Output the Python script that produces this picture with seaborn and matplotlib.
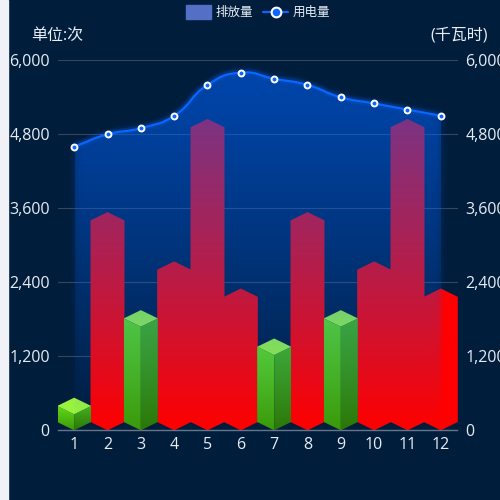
import numpy as np
import matplotlib
matplotlib.use("Agg")
import matplotlib.pyplot as plt
import seaborn as sns
from matplotlib.path import Path
from matplotlib.patches import PathPatch, Polygon, Rectangle
from matplotlib.lines import Line2D
from matplotlib.ticker import FuncFormatter

# data
months = ["1", "2", "3", "4", "5", "6", "7", "8", "9", "10", "11", "12"]
emission = [260, 3270, 1680, 2470, 4780, 2030, 1220, 3270, 1680, 2470, 4780, 2030]
power = [4600, 4800, 4900, 5100, 5600, 5800, 5700, 5600, 5400, 5300, 5200, 5100]
y_ticks = [0, 1200, 2400, 3600, 4800, 6000]
green_limit = 2000  # bars under this are drawn as green cubes

BG = "#001d3c"
TXT = "#e8edf3"
LINE = "#0a66ff"

sns.set_theme(style="dark", rc={"axes.facecolor": BG, "figure.facecolor": BG})
plt.rcParams["font.family"] = ["Open Sans", "Noto Sans CJK SC", "DejaVu Sans"]

fig = plt.figure(figsize=(5, 5), dpi=100)
ax = fig.add_axes([57.5 / 500, 1 - 430.3 / 500, 400 / 500, 370 / 500])
ax.set_facecolor(BG)
fig.patches.append(Rectangle((0, 0), 8 / 500, 1, transform=fig.transFigure,
                             color="#f0f2f7", zorder=0))

x = np.arange(1, len(months) + 1)
ax.set_xlim(0.5, len(months) + 0.5)
ax.set_ylim(0, 6000)

# px -> data scale (33.33 px per category, 370 px per 6000)
sx, sy = 400 / 12, 370 / 6000
hw = 17 / sx   # half bar width
dy = 8.3 / sy  # iso offset


def rgb(h):
    return np.array(matplotlib.colors.to_rgb(h))


def grad_fill(verts, c_top, c_bot, z):
    poly = Polygon(verts, closed=True, facecolor="none", edgecolor="none")
    ax.add_patch(poly)
    xs = [p[0] for p in verts]
    ys = [p[1] for p in verts]
    t = np.linspace(1, 0, 64)[:, None]
    col = rgb(c_top) * t + rgb(c_bot) * (1 - t)
    im = ax.imshow(col[:, None, :], extent=[min(xs), max(xs), min(ys), max(ys)],
                   aspect="auto", origin="upper", interpolation="bilinear", zorder=z)
    im.set_clip_path(poly)


for xi, v in zip(x, emission):
    if v < green_limit:
        top = [(xi, v), (xi - hw, v + dy), (xi, v + 2 * dy), (xi + hw, v + dy)]
        left = [(xi - hw, dy), (xi, 0), (xi, v), (xi - hw, v + dy)]
        right = [(xi, 0), (xi + hw, dy), (xi + hw, v + dy), (xi, v)]
        grad_fill(left, "#62dc18", "#3a9a0a", 1.2)
        grad_fill(right, "#48b416", "#2c7808", 1.2)
        ax.add_patch(Polygon(top, closed=True, facecolor="#98f23e", edgecolor="none", zorder=1.3))
    else:
        hexa = [(xi - hw, dy), (xi, 0), (xi + hw, dy), (xi + hw, v + dy),
                (xi, v + 2 * dy), (xi - hw, v + dy)]
        ax.add_patch(Polygon(hexa, closed=True, facecolor="#ff0000", edgecolor="none", zorder=1.1))


# smooth line like echarts (smooth = 0.5)
def smooth_path(xs, ys, smooth=0.5):
    P = np.column_stack([np.asarray(xs, float) * sx, np.asarray(ys, float) * sy])
    n = len(P)
    cps = []
    for i in range(n):
        prev = P[i - 1] if i > 0 else P[i]
        nxt = P[i + 1] if i < n - 1 else P[i]
        vec = (nxt - prev) * smooth
        d0 = np.hypot(*(P[i] - prev))
        d1 = np.hypot(*(nxt - P[i]))
        s = d0 + d1 if d0 + d1 else 1
        cps.append((P[i] - vec * d0 / s, P[i] + vec * d1 / s))
    verts = [P[0]]
    codes = [Path.MOVETO]
    for i in range(n - 1):
        verts += [cps[i][1], cps[i + 1][0], P[i + 1]]
        codes += [Path.CURVE4] * 3
    verts = np.array(verts) / [sx, sy]
    return verts, codes


lv, lc = smooth_path(x, power)

# area: fading gradient + blurred shadow, rastered at pixel size
area_v = np.vstack([lv, [[x[-1], 0], [x[0], 0], lv[0]]])
area_c = lc + [Path.LINETO, Path.LINETO, Path.CLOSEPOLY]
area_path = Path(area_v, area_c)
W, H = 400, 370
gx = 0.5 + (np.arange(W) + 0.5) / sx
gy = 6000 - (np.arange(H) + 0.5) / sy
GX, GY = np.meshgrid(gx, gy)
inside = area_path.contains_points(np.column_stack([GX.ravel(), GY.ravel()])).reshape(H, W)
a_lin = np.clip(GY / max(power), 0, 1) * 0.35
sharp = inside * a_lin
k = np.exp(-0.5 * (np.arange(-12, 13) / 4.0) ** 2)
k /= k.sum()
blur = np.apply_along_axis(lambda r: np.convolve(r, k, mode="same"), 1, sharp)
blur = np.apply_along_axis(lambda c: np.convolve(c, k, mode="same"), 0, blur)
img = np.zeros((H, W, 4))
img[..., :3] = rgb("#0064ff")
img[..., 3] = 1 - (1 - sharp) * (1 - blur)
ax.imshow(img, extent=[0.5, 12.5, 0, 6000], aspect="auto", origin="upper",
          interpolation="nearest", zorder=2)

# line with glow
for lw, a in [(7, 0.08), (4.5, 0.15)]:
    ax.add_patch(PathPatch(Path(lv, lc), facecolor="none", edgecolor=LINE, lw=lw, alpha=a, zorder=3))
ax.add_patch(PathPatch(Path(lv, lc), facecolor="none", edgecolor=LINE, lw=1.6, zorder=3.5))
sns.scatterplot(x=x, y=power, ax=ax, s=18, color=LINE, edgecolor="white", linewidth=1.4,
                zorder=4, legend=False)

ax.set_xlim(0.5, len(months) + 0.5)
ax.set_ylim(0, 6000)

# axes
ax.set_xticks(x)
ax.set_xticklabels(months)
ax.set_yticks(y_ticks)
ax.yaxis.set_major_formatter(FuncFormatter(lambda v, p: f"{int(v):,}"))
ax.grid(axis="y", color="#38465a", lw=0.8, zorder=0.5)
ax.grid(axis="x", visible=False)
ax.set_axisbelow(True)
for s in ["top", "left", "right"]:
    ax.spines[s].set_visible(False)
ax.spines["bottom"].set_color("#667487")
ax.spines["bottom"].set_linewidth(1)
ax.tick_params(axis="x", length=0, pad=5, labelsize=11.5, colors=TXT)
ax.tick_params(axis="y", length=0, pad=5.5, labelsize=11.5, colors=TXT,
               labelleft=True, labelright=True)
ax.set_xlabel("")
ax.set_ylabel("")

# axis names
fig.text(31 / 500, 1 - 36 / 500, "单位:次", color=TXT, fontsize=11.5, ha="left", va="center")
fig.text(488 / 500, 1 - 36 / 500, "(千瓦时)", color=TXT, fontsize=11.5, ha="right", va="center")

# legend
fig.patches.append(Rectangle((186 / 500, 1 - 19 / 500), 25 / 500, 14 / 500,
                             transform=fig.transFigure, color="#5470c6"))
fig.text(216 / 500, 1 - 12 / 500, "排放量", color=TXT, fontsize=9, ha="left", va="center")
fig.lines.append(Line2D([263 / 500, 288 / 500], [1 - 12 / 500] * 2, transform=fig.transFigure,
                        color=LINE, lw=1.6))
fig.lines.append(Line2D([275.5 / 500], [1 - 12 / 500], transform=fig.transFigure, marker="o",
                        markersize=7, markerfacecolor=LINE, markeredgecolor="white",
                        markeredgewidth=1.5))
fig.text(293 / 500, 1 - 12 / 500, "用电量", color=TXT, fontsize=9, ha="left", va="center")

fig.savefig("out.png", dpi=100, facecolor=BG)
